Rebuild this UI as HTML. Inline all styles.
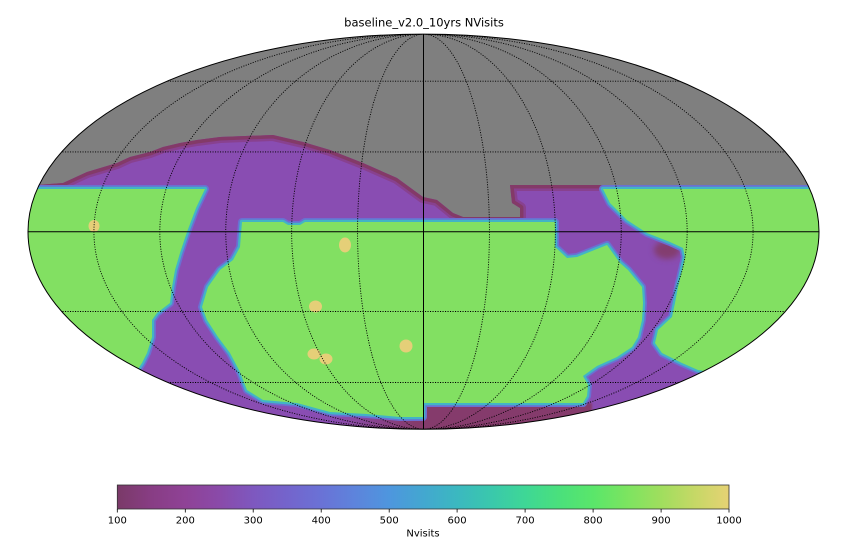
<!DOCTYPE html>
<html><head><meta charset="utf-8"><style>
html,body{margin:0;padding:0;background:#fff;}
svg{display:block;}
</style></head><body>
<svg width="850" height="552" viewBox="0 0 850 552" xmlns="http://www.w3.org/2000/svg">
<defs>
<clipPath id="ell"><ellipse cx="423.5" cy="231.7" rx="395.5" ry="197.6"/></clipPath>
<clipPath id="pur"><path d="M0,186 L37,185 L63,183 L87,172 L117,163 L130,157 L150,152 L163,147 L180,143 L197,140 L220,137 L273,135 L303,142 L330,150 L363,163 L397,178 L423,197 L437,200 L453,213 L463,217 L520,217 L520,208 L512,203 L510,185 L850,185 L850,450 L0,450 Z"/></clipPath>
<linearGradient id="cb" x1="0" x2="1" y1="0" y2="0">
<stop offset="0" stop-color="#7a3a68"/>
<stop offset="0.0556" stop-color="#883d84"/>
<stop offset="0.1111" stop-color="#8f4296"/>
<stop offset="0.1667" stop-color="#8a4aa9"/>
<stop offset="0.2222" stop-color="#7e58bf"/>
<stop offset="0.2778" stop-color="#7464cc"/>
<stop offset="0.3333" stop-color="#6a72d6"/>
<stop offset="0.3889" stop-color="#5d84dc"/>
<stop offset="0.4444" stop-color="#4e96de"/>
<stop offset="0.5" stop-color="#43a7d0"/>
<stop offset="0.5556" stop-color="#3bb8c0"/>
<stop offset="0.6111" stop-color="#3ac8ac"/>
<stop offset="0.6667" stop-color="#3ed796"/>
<stop offset="0.7222" stop-color="#4ae07c"/>
<stop offset="0.7778" stop-color="#5ae66a"/>
<stop offset="0.8333" stop-color="#7ce460"/>
<stop offset="0.8889" stop-color="#a0de5e"/>
<stop offset="0.9444" stop-color="#c6d866"/>
<stop offset="1" stop-color="#e6d274"/>
</linearGradient>
<linearGradient id="bd" gradientUnits="userSpaceOnUse" x1="335" y1="0" x2="415" y2="0">
<stop offset="0" stop-color="#8a4cb0"/>
<stop offset="1" stop-color="#853b6c"/>
</linearGradient>
<filter id="bl" x="-50%" y="-50%" width="200%" height="200%"><feGaussianBlur stdDeviation="3"/></filter>
<filter id="bl1" x="-20%" y="-20%" width="140%" height="140%"><feGaussianBlur stdDeviation="1"/></filter>
</defs>

<text x="424" y="26.5" font-family="DejaVu Sans, Liberation Sans, sans-serif" font-size="11.5" text-anchor="middle" fill="#000">baseline_v2.0_10yrs NVisits</text>

<g clip-path="url(#ell)">
  <rect x="0" y="0" width="850" height="450" fill="#7f7f7f"/>
  <path d="M0,186 L37,185 L63,183 L87,172 L117,163 L130,157 L150,152 L163,147 L180,143 L197,140 L220,137 L273,135 L303,142 L330,150 L363,163 L397,178 L423,197 L437,200 L453,213 L463,217 L520,217 L520,208 L512,203 L510,185 L850,185 L850,450 L0,450 Z" fill="#894db2"/>
  <g clip-path="url(#pur)">
    <path d="M0,186 L37,185 L63,183 L87,172 L117,163 L130,157 L150,152 L163,147 L180,143 L197,140 L220,137 L273,135 L303,142 L330,150 L363,163 L397,178 L423,197 L437,200 L453,213 L463,217 L520,217 L520,208 L512,203 L510,185 L850,185" fill="none" stroke="#88418f" stroke-width="12" stroke-linejoin="round"/>
    <path d="M0,186 L37,185 L63,183 L87,172 L117,163 L130,157 L150,152 L163,147 L180,143 L197,140 L220,137 L273,135 L303,142 L330,150 L363,163 L397,178 L423,197 L437,200 L453,213 L463,217 L520,217 L520,208 L512,203 L510,185 L850,185" fill="none" stroke="#833a68" stroke-width="7" stroke-linejoin="round"/>
  </g>
  <ellipse cx="667" cy="250" rx="13" ry="9" fill="#833d70" filter="url(#bl)"/>
  <path d="M335,412 L423,417 L423,403 L592,403 L592,450 L335,450 Z" fill="url(#bd)" filter="url(#bl1)"/>

  <g stroke-linejoin="round">
    <path d="M0,189 L205,189 L196,208 L187,232 L180,253 L175,270 L172,287 L170,303 L157,313 L152,320 L152,337 L147,353 L142,363 L136,372 L120,400 L0,400 Z" fill="none" stroke="#6b6fd2" stroke-width="8"/>
    <path d="M242,222 L283,222 L288,225 L300,225 L305,222 L555,222 L555,247 L567,258 L577,257 L607,245 L620,263 L628,270 L642,287 L643,303 L642,320 L638,337 L632,347 L617,357 L597,366 L583,376 L588,385 L587,396 L583,403 L423,403 L423,417 L400,417 L367,414 L330,412 L297,403 L263,400 L247,390 L243,380 L240,372 L230,353 L218,337 L207,320 L202,307 L208,287 L220,270 L233,260 L240,247 Z" fill="none" stroke="#6b6fd2" stroke-width="8"/>
    <path d="M603,189 L850,189 L850,372 L710,372 L698,370 L682,363 L662,353 L655,343 L658,330 L672,317 L675,303 L678,287 L682,270 L685,257 L683,248 L670,242 L647,233 L627,220 L610,203 Z" fill="none" stroke="#6b6fd2" stroke-width="8"/>

    <path d="M0,189 L205,189 L196,208 L187,232 L180,253 L175,270 L172,287 L170,303 L157,313 L152,320 L152,337 L147,353 L142,363 L136,372 L120,400 L0,400 Z" fill="none" stroke="#42b4c6" stroke-width="4.5"/>
    <path d="M242,222 L283,222 L288,225 L300,225 L305,222 L555,222 L555,247 L567,258 L577,257 L607,245 L620,263 L628,270 L642,287 L643,303 L642,320 L638,337 L632,347 L617,357 L597,366 L583,376 L588,385 L587,396 L583,403 L423,403 L423,417 L400,417 L367,414 L330,412 L297,403 L263,400 L247,390 L243,380 L240,372 L230,353 L218,337 L207,320 L202,307 L208,287 L220,270 L233,260 L240,247 Z" fill="none" stroke="#42b4c6" stroke-width="4.5"/>
    <path d="M603,189 L850,189 L850,372 L710,372 L698,370 L682,363 L662,353 L655,343 L658,330 L672,317 L675,303 L678,287 L682,270 L685,257 L683,248 L670,242 L647,233 L627,220 L610,203 Z" fill="none" stroke="#42b4c6" stroke-width="4.5"/>

    <path d="M0,189 L205,189 L196,208 L187,232 L180,253 L175,270 L172,287 L170,303 L157,313 L152,320 L152,337 L147,353 L142,363 L136,372 L120,400 L0,400 Z" fill="#82e062"/>
    <path d="M242,222 L283,222 L288,225 L300,225 L305,222 L555,222 L555,247 L567,258 L577,257 L607,245 L620,263 L628,270 L642,287 L643,303 L642,320 L638,337 L632,347 L617,357 L597,366 L583,376 L588,385 L587,396 L583,403 L423,403 L423,417 L400,417 L367,414 L330,412 L297,403 L263,400 L247,390 L243,380 L240,372 L230,353 L218,337 L207,320 L202,307 L208,287 L220,270 L233,260 L240,247 Z" fill="#82e062"/>
    <path d="M603,189 L850,189 L850,372 L710,372 L698,370 L682,363 L662,353 L655,343 L658,330 L672,317 L675,303 L678,287 L682,270 L685,257 L683,248 L670,242 L647,233 L627,220 L610,203 Z" fill="#82e062"/>
  </g>

  <g fill="#e5cf78">
    <ellipse cx="94" cy="226" rx="5.5" ry="6"/>
    <ellipse cx="345" cy="245" rx="6" ry="7.5"/>
    <ellipse cx="315.5" cy="306.5" rx="6.5" ry="6"/>
    <ellipse cx="314" cy="354" rx="6.5" ry="5.5"/>
    <ellipse cx="326" cy="359" rx="6.5" ry="5.5"/>
    <ellipse cx="406" cy="346" rx="6.5" ry="6.5"/>
  </g>

  <g fill="none" stroke="#000" stroke-width="0.9" stroke-dasharray="1.1 1.4">
    <ellipse cx="423.5" cy="231.7" rx="65.92" ry="197.6"/>
    <ellipse cx="423.5" cy="231.7" rx="131.83" ry="197.6"/>
    <ellipse cx="423.5" cy="231.7" rx="197.75" ry="197.6"/>
    <ellipse cx="423.5" cy="231.7" rx="263.67" ry="197.6"/>
    <ellipse cx="423.5" cy="231.7" rx="329.58" ry="197.6"/>
    <line x1="0" y1="81.2" x2="850" y2="81.2"/>
    <line x1="0" y1="151.9" x2="850" y2="151.9"/>
    <line x1="0" y1="311.5" x2="850" y2="311.5"/>
    <line x1="0" y1="382.5" x2="850" y2="382.5"/>
  </g>
  <line x1="423.5" y1="30" x2="423.5" y2="432" stroke="#000" stroke-width="1"/>
  <line x1="20" y1="231.7" x2="830" y2="231.7" stroke="#000" stroke-width="1"/>
</g>
<ellipse cx="423.5" cy="231.7" rx="395.5" ry="197.6" fill="none" stroke="#000" stroke-width="1"/>

<rect x="117.3" y="485" width="611.7" height="24" fill="url(#cb)" stroke="#333" stroke-width="0.8"/>
<g stroke="#000" stroke-width="0.8">
  <line x1="117.3" y1="509" x2="117.3" y2="512.5"/>
  <line x1="185.3" y1="509" x2="185.3" y2="512.5"/>
  <line x1="253.2" y1="509" x2="253.2" y2="512.5"/>
  <line x1="321.2" y1="509" x2="321.2" y2="512.5"/>
  <line x1="389.2" y1="509" x2="389.2" y2="512.5"/>
  <line x1="457.1" y1="509" x2="457.1" y2="512.5"/>
  <line x1="525.1" y1="509" x2="525.1" y2="512.5"/>
  <line x1="593.1" y1="509" x2="593.1" y2="512.5"/>
  <line x1="661.1" y1="509" x2="661.1" y2="512.5"/>
  <line x1="729.0" y1="509" x2="729.0" y2="512.5"/>
</g>
<g font-family="DejaVu Sans, Liberation Sans, sans-serif" font-size="10" text-anchor="middle" fill="#000">
  <text x="117.3" y="523.5">100</text>
  <text x="185.3" y="523.5">200</text>
  <text x="253.2" y="523.5">300</text>
  <text x="321.2" y="523.5">400</text>
  <text x="389.2" y="523.5">500</text>
  <text x="457.1" y="523.5">600</text>
  <text x="525.1" y="523.5">700</text>
  <text x="593.1" y="523.5">800</text>
  <text x="661.1" y="523.5">900</text>
  <text x="729.0" y="523.5">1000</text>
  <text x="423" y="536.7">Nvisits</text>
</g>
</svg>
</body></html>
